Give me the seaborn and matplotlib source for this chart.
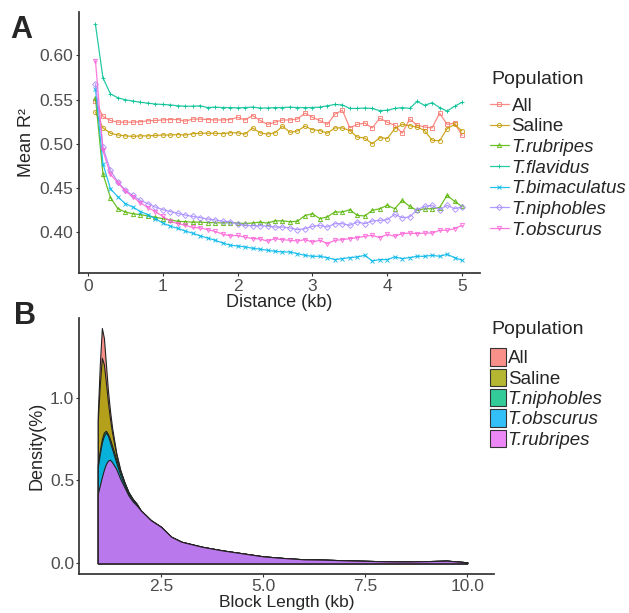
# LD decay (A) and haplotype block length (B) for pufferfish populations

import numpy as np
import pandas as pd
import matplotlib
matplotlib.use("Agg")
import matplotlib.pyplot as plt
from matplotlib.colors import to_rgba
from matplotlib.patches import Patch
import seaborn as sns


# STYLE

sns.set_theme(style="ticks")
plt.rcParams["font.family"] = ["Liberation Sans", "DejaVu Sans"]
plt.rcParams["axes.edgecolor"] = "#333333"
plt.rcParams["xtick.color"] = "#333333"
plt.rcParams["ytick.color"] = "#333333"
plt.rcParams["xtick.labelcolor"] = "#4d4d4d"
plt.rcParams["ytick.labelcolor"] = "#4d4d4d"


# DATA — panel A (mean r2 by distance, kb)

distance_kb = np.round(np.arange(0.1, 5.01, 0.1), 1)

pop_A = ["All", "Saline", "T.rubripes", "T.flavidus", "T.bimaculatus", "T.niphobles", "T.obscurus"]
colors_A = ["#F8766D", "#C49A00", "#53B400", "#00C094", "#00B6EB", "#A58AFF", "#FB61D7"]
markers_A = ["s", "o", "^", "+", "x", "D", "v"]

r2_all = [0.548, 0.531, 0.5264, 0.5245, 0.5245, 0.5245, 0.525, 0.526, 0.5265, 0.527,
          0.5275, 0.5275, 0.5256, 0.528, 0.528, 0.5275, 0.527, 0.527, 0.5275, 0.530,
          0.527, 0.532, 0.5265, 0.522, 0.5245, 0.527, 0.527, 0.528, 0.5347, 0.530,
          0.5264, 0.522, 0.5335, 0.538, 0.518, 0.522, 0.5235, 0.518, 0.529, 0.5245,
          0.521, 0.512, 0.528, 0.521, 0.519, 0.518, 0.5347, 0.522, 0.5235, 0.5095]

r2_saline = [0.536, 0.518, 0.512, 0.510, 0.509, 0.5085, 0.509, 0.509, 0.5095, 0.510,
             0.510, 0.5105, 0.510, 0.5115, 0.512, 0.512, 0.512, 0.5115, 0.5125, 0.5125,
             0.511, 0.518, 0.5125, 0.511, 0.5125, 0.520, 0.513, 0.5145, 0.520, 0.516,
             0.515, 0.512, 0.518, 0.518, 0.515, 0.5076, 0.5066, 0.500, 0.507, 0.506,
             0.517, 0.522, 0.5205, 0.519, 0.515, 0.504, 0.5035, 0.517, 0.522, 0.5145]

r2_rubripes = [0.552, 0.4662, 0.4392, 0.4267, 0.4229, 0.421, 0.420, 0.4185, 0.417, 0.4155,
               0.414, 0.4125, 0.412, 0.4115, 0.4116, 0.411, 0.411, 0.4105, 0.411, 0.4105,
               0.410, 0.4105, 0.4115, 0.4105, 0.413, 0.413, 0.412, 0.4125, 0.419, 0.421,
               0.4155, 0.4175, 0.423, 0.423, 0.4256, 0.4192, 0.4185, 0.4248, 0.4267, 0.4305,
               0.4267, 0.436, 0.4293, 0.4248, 0.4267, 0.4267, 0.428, 0.4418, 0.435, 0.4293]

r2_flavidus = [0.635, 0.5746, 0.5565, 0.552, 0.5498, 0.5484, 0.547, 0.546, 0.545, 0.5445,
               0.544, 0.543, 0.5425, 0.5425, 0.543, 0.541, 0.5415, 0.541, 0.541, 0.5407,
               0.541, 0.5415, 0.5405, 0.5405, 0.541, 0.541, 0.5415, 0.541, 0.541, 0.541,
               0.5415, 0.543, 0.5445, 0.544, 0.540, 0.540, 0.5405, 0.540, 0.5375, 0.538,
               0.540, 0.541, 0.540, 0.548, 0.5435, 0.5465, 0.541, 0.537, 0.5425, 0.547]

r2_bimaculatus = [0.562, 0.4775, 0.4493, 0.440, 0.4324, 0.4286, 0.4235, 0.420, 0.4155, 0.4105,
                  0.407, 0.4045, 0.4015, 0.399, 0.396, 0.3935, 0.391, 0.388, 0.3855, 0.3845,
                  0.3835, 0.382, 0.381, 0.3797, 0.3786, 0.3778, 0.3778, 0.3759, 0.374, 0.3729,
                  0.3729, 0.3714, 0.3692, 0.3703, 0.3714, 0.3722, 0.374, 0.3677, 0.3692, 0.3692,
                  0.3722, 0.3703, 0.3714, 0.3729, 0.3729, 0.374, 0.3729, 0.3752, 0.3714, 0.3684]

r2_niphobles = [0.568, 0.4963, 0.470, 0.4568, 0.4474, 0.4418, 0.436, 0.4324, 0.4286, 0.4256,
                0.4235, 0.4215, 0.4195, 0.418, 0.4166, 0.415, 0.414, 0.4125, 0.412, 0.4095,
                0.408, 0.4075, 0.4075, 0.407, 0.406, 0.406, 0.4049, 0.403, 0.4041, 0.4068,
                0.4079, 0.406, 0.4098, 0.4098, 0.4079, 0.4117, 0.4098, 0.4128, 0.4135, 0.4143,
                0.4203, 0.4165, 0.4173, 0.4256, 0.4293, 0.4305, 0.4256, 0.4305, 0.4267, 0.4286]

r2_obscurus = [0.594, 0.4925, 0.4655, 0.456, 0.4465, 0.440, 0.4335, 0.428, 0.4235, 0.418,
               0.4125, 0.4098, 0.408, 0.4055, 0.405, 0.403, 0.401, 0.398, 0.396, 0.3965,
               0.3945, 0.393, 0.3925, 0.390, 0.3929, 0.3917, 0.391, 0.3902, 0.3917, 0.3891,
               0.391, 0.3872, 0.391, 0.3917, 0.3929, 0.394, 0.3955, 0.3966, 0.394, 0.3977,
               0.3955, 0.3985, 0.3992, 0.3985, 0.3992, 0.3992, 0.4023, 0.4023, 0.4041, 0.4079]

r2_series = [r2_all, r2_saline, r2_rubripes, r2_flavidus, r2_bimaculatus, r2_niphobles, r2_obscurus]


# DATA — panel B (block length density)

pop_B = ["All", "Saline", "T.niphobles", "T.obscurus", "T.rubripes"]
colors_B = ["#F8766D", "#A3A500", "#00BF7D", "#00B0F6", "#E76BF3"]

block_kb = [0.95, 1.0, 1.05, 1.1, 1.15, 1.2, 1.25, 1.3, 1.4, 1.5, 1.6, 1.7, 1.8, 1.9, 2.0,
            2.25, 2.5, 2.75, 3.0, 3.5, 4.0, 4.5, 5.0, 5.5, 6.0, 6.5, 7.0, 7.5, 8.0,
            8.5, 9.0, 9.5, 10.0]

tail = [0.32, 0.26, 0.22, 0.16, 0.13, 0.10, 0.078, 0.06, 0.042, 0.032, 0.024, 0.022,
        0.018, 0.015, 0.012, 0.011, 0.013, 0.016, 0.006]

dens_all = [0.90, 1.20, 1.42, 1.36, 1.20, 1.04, 0.92, 0.82, 0.67, 0.565, 0.49, 0.43, 0.39, 0.36] + tail
dens_saline = [0.86, 1.08, 1.24, 1.20, 1.09, 0.97, 0.87, 0.79, 0.66, 0.56, 0.49, 0.43, 0.39, 0.36] + tail
dens_niphobles = [0.60, 0.68, 0.75, 0.79, 0.80, 0.78, 0.75, 0.71, 0.63, 0.555, 0.49, 0.43, 0.39, 0.36] + tail
dens_obscurus = [0.58, 0.66, 0.73, 0.77, 0.79, 0.77, 0.73, 0.69, 0.61, 0.535, 0.475, 0.42, 0.385, 0.355] + tail
dens_rubripes = [0.42, 0.47, 0.52, 0.565, 0.60, 0.62, 0.625, 0.61, 0.57, 0.51, 0.46, 0.41, 0.375, 0.35] + tail

dens_series = [dens_all, dens_saline, dens_niphobles, dens_obscurus, dens_rubripes]


# LONG TABLE FOR SEABORN

df_ld = pd.concat(
    [pd.DataFrame({"distance": distance_kb, "r2": vals, "population": p})
     for p, vals in zip(pop_A, r2_series)],
    ignore_index=True
)


# FIGURE

fig = plt.figure(figsize=(6.29, 6.13), dpi=100)
axA = fig.add_axes([0.1256, 0.5546, 0.6375, 0.4258])
axB = fig.add_axes([0.1256, 0.0635, 0.66, 0.4176])


# PANEL A

sns.lineplot(
    data=df_ld, x="distance", y="r2",
    hue="population", hue_order=pop_A, palette=colors_A,
    linewidth=0.9, alpha=0.85,
    errorbar=None, legend=False, ax=axA
)

# open ggplot-like shapes, one per population
for ln, m in zip(axA.get_lines(), markers_A):
    ln.set_marker(m)
    ln.set_markersize(3)
    ln.set_markerfacecolor("none")
    ln.set_markeredgecolor(ln.get_color())
    ln.set_markeredgewidth(0.7)

axA.set_xlim(-0.12, 5.24)
axA.set_ylim(0.354, 0.649)
axA.set_xticks([0, 1, 2, 3, 4, 5])
axA.set_yticks([0.40, 0.45, 0.50, 0.55, 0.60])
axA.set_xlabel("Distance (kb)", fontsize=13, labelpad=0)
axA.set_ylabel("Mean R²", fontsize=13, labelpad=3)
axA.tick_params(labelsize=12.5, length=2.5, width=0.8, pad=1.5)
sns.despine(ax=axA)

fig.text(0.7806, 1 - 80 / 613, "Population", va="center", fontsize=14)
legA = fig.legend(
    axA.get_lines()[:len(pop_A)], pop_A,
    loc="upper left", bbox_to_anchor=(0.779, 0.841),
    frameon=False, fontsize=13.5,
    handlelength=1.0, handletextpad=0.15, labelspacing=0.19,
    borderpad=0, borderaxespad=0
)
for t in legA.get_texts():
    if t.get_text().startswith("T."):
        t.set_fontstyle("italic")


# PANEL B

for p, c, d in zip(pop_B, colors_B, dens_series):
    axB.fill_between(block_kb, d, 0, facecolor=to_rgba(c, 0.8),
                     edgecolor="#222222", linewidth=0.8)

axB.set_xlim(0.49, 10.66)
axB.set_ylim(-0.065, 1.48)
axB.set_xticks([2.5, 5.0, 7.5, 10.0])
axB.set_yticks([0.0, 0.5, 1.0])
axB.set_xlabel("Block Length (kb)", fontsize=12.5, labelpad=0.5)
axB.set_ylabel("Density(%)", fontsize=13, labelpad=3)
axB.tick_params(labelsize=12.5, length=2.5, width=0.8, pad=1)
sns.despine(ax=axB)

fig.text(0.7806, 1 - 330 / 613, "Population", va="center", fontsize=14)
handles_B = [Patch(facecolor=to_rgba(c, 0.8), edgecolor="#333333", linewidth=0.8) for c in colors_B]
legB = fig.legend(
    handles_B, pop_B,
    loc="upper left", bbox_to_anchor=(0.779, 0.432),
    frameon=False, fontsize=13.5,
    handlelength=0.85, handleheight=1.05, handletextpad=0.1, labelspacing=0.07,
    borderpad=0, borderaxespad=0
)
for t in legB.get_texts():
    if t.get_text().startswith("T."):
        t.set_fontstyle("italic")


# PANEL LETTERS

fig.text(0.016, 0.938, "A", fontsize=22, fontweight="bold")
fig.text(0.022, 0.472, "B", fontsize=22, fontweight="bold")

fig.savefig("out.png", dpi=100)
plt.close(fig)
